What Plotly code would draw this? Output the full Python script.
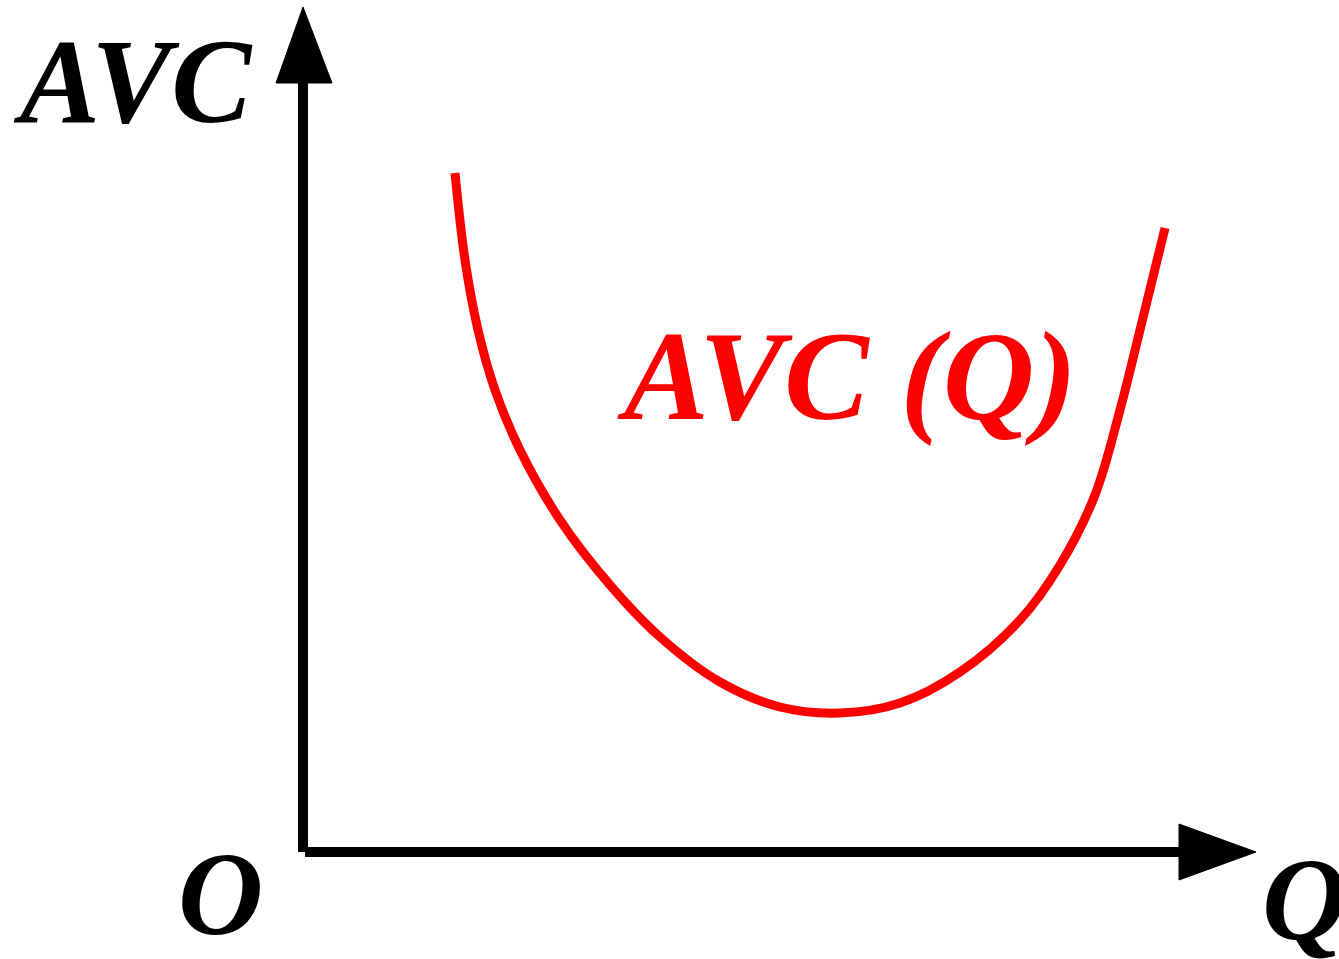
import plotly.graph_objects as go

# output Q and average variable cost (arbitrary units)
q = [15.0, 16.0, 17.3, 19.0, 21.5, 25.5, 30.5, 35.5, 41.5, 47.5, 53.5,
     59.5, 65.5, 71.5, 75.5, 79.0, 81.5, 83.5, 86.0]
avc = [67.9, 59.2, 52.2, 46.2, 40.2, 33.2, 26.7, 21.5, 17.0, 14.5, 13.9,
       14.9, 18.0, 23.2, 28.7, 35.7, 44.2, 52.2, 62.4]

x_label = "Q"
y_label = "AVC"
curve_label = "AVC (Q)"
origin_label = "O"

font_family = "Liberation Serif, Times New Roman, serif"

fig = go.Figure()
fig.add_trace(go.Scatter(x=q, y=avc, mode="lines",
                         line=dict(color="#ff0000", width=9, shape="spline", smoothing=1.0),
                         hoverinfo="skip", showlegend=False))

# axes with arrowheads
fig.add_shape(type="line", x0=0, y0=0, x1=88, y1=0, line=dict(color="black", width=10))
fig.add_shape(type="line", x0=-0.2, y0=0, x1=-0.2, y1=77.5, line=dict(color="black", width=10))
fig.add_shape(type="path", path="M 87.4 2.8 L 95.1 0 L 87.4 -2.8 Z",
              fillcolor="black", line=dict(color="black", width=1))
fig.add_shape(type="path", path="M -2.9 76.9 L -0.2 84.5 L 2.7 76.9 Z",
              fillcolor="black", line=dict(color="black", width=1))

def label(text, x, y, color="black", size=118):
    fig.add_annotation(x=x, y=y, text="<b><i>" + text + "</i></b>", showarrow=False,
                       xanchor="left", yanchor="middle",
                       font=dict(family=font_family, size=size, color=color))

label(y_label, -29.4, 77.1, size=120)
label(curve_label, 31.0, 47.6, color="#ff0000", size=127)
label(origin_label, -12.9, -4.2)
label(x_label, 95.5, -4.7)

fig.update_xaxes(range=[-30.5, 103.4], visible=False)
fig.update_yaxes(range=[-10.7, 85.2], visible=False)
fig.update_layout(width=1339, height=959, margin=dict(l=0, r=0, t=0, b=0),
                  plot_bgcolor="white", paper_bgcolor="white")

fig.write_html("out.html", config={"displayModeBar": False},
               post_script="document.body.style.margin='0';")
